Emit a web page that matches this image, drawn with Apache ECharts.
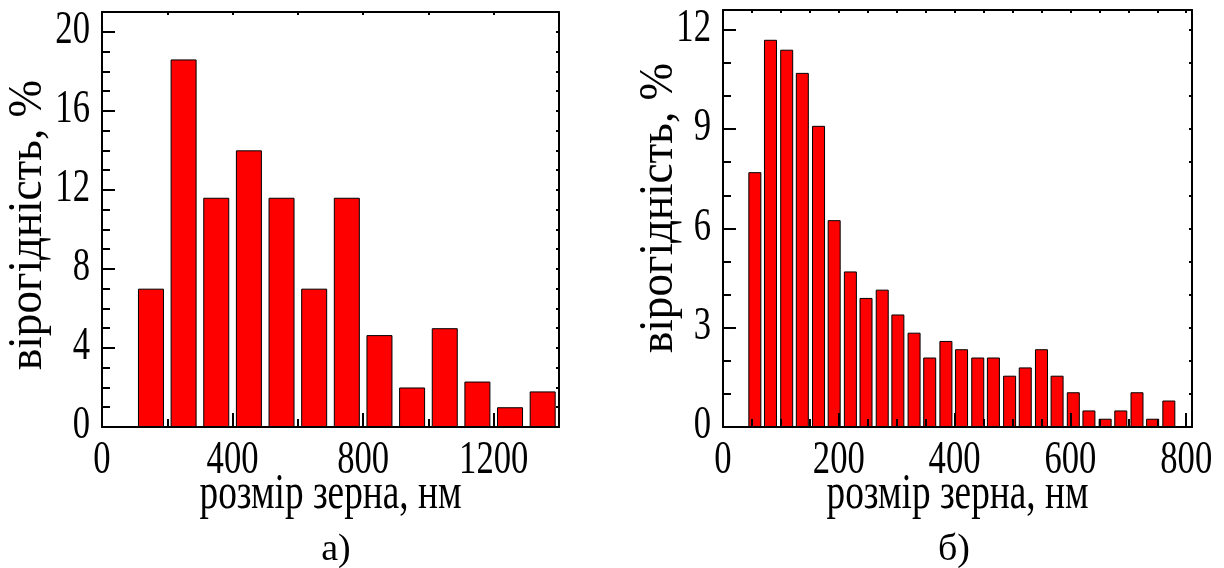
<!DOCTYPE html>
<html><head><meta charset="utf-8">
<script src="https://cdn.jsdelivr.net/npm/echarts@6/dist/echarts.min.js"></script>
<style>html,body{margin:0;padding:0;background:#fff}#c{width:1224px;height:568px}</style>
</head><body><div id="c"></div>
<script>
// ---- data ----
const binsA = [150, 250, 350, 450, 550, 650, 750, 850, 950, 1050, 1150, 1250, 1350];
const valsA = [7.0, 18.6, 11.6, 14.0, 11.6, 7.0, 11.6, 4.65, 2.0, 5.0, 2.3, 1.0, 1.8];
const binsB = [55, 82, 110, 137, 165, 192, 220, 247, 275, 302, 330, 357, 385, 412, 440, 467, 495, 522, 550, 577, 605, 632, 660, 687, 715, 742, 770];
const valsB = [7.7, 11.7, 11.4, 10.7, 9.1, 6.25, 4.7, 3.9, 4.15, 3.4, 2.85, 2.1, 2.6, 2.35, 2.1, 2.1, 1.55, 1.8, 2.35, 1.55, 1.05, 0.5, 0.25, 0.5, 1.05, 0.25, 0.8];
const xTicksA = [0, 400, 800, 1200];
const yTicksA = [0, 4, 8, 12, 16, 20];
const xTicksB = [0, 200, 400, 600, 800];
const yTicksB = [0, 3, 6, 9, 12];
const xNameText = 'розмір зерна, нм';
const yNameText = 'вірогідність, %';
const captions = ['а)', 'б)'];

// ---- style / layout ----
const FONT = '"Liberation Serif", "Times New Roman", serif';
const grids = [
  {left: 102, top: 12, width: 457, height: 415},
  {left: 723, top: 10, width: 469, height: 417}
];
const black = '#000';

function axis(gridIndex, pos, min, max, interval, tickLen, showLine) {
  return {
    type: 'value', gridIndex, position: pos, min, max, interval,
    z: 5,
    axisLine: {show: showLine, onZero: false, lineStyle: {color: black, width: 2}},
    axisTick: {show: true, inside: true, length: tickLen, lineStyle: {color: black, width: 2}},
    axisLabel: {show: false},
    splitLine: {show: false},
    minorTick: {show: false}
  };
}

const option = {
  animation: false,
  backgroundColor: '#fff',
  grid: grids.map(g => Object.assign({containLabel: false}, g)),
  xAxis: [
    axis(0, 'bottom', 0, 1400, 400, 14, true),
    axis(0, 'bottom', 0, 1400, 200, 8, false),
    axis(0, 'top', 0, 1400, 200, 3, true),
    axis(1, 'bottom', 0, 810, 200, 14, true),
    axis(1, 'bottom', 0, 810, 50, 8, false),
    axis(1, 'top', 0, 810, 50, 3, true)
  ],
  yAxis: [
    axis(0, 'left', 0, 21, 4, 13, true),
    axis(0, 'left', 0, 21, 1, 8, false),
    axis(0, 'right', 0, 21, 1, 3, true),
    axis(1, 'left', 0, 12.6, 3, 13, true),
    axis(1, 'left', 0, 12.6, 1, 8, false),
    axis(1, 'right', 0, 12.6, 1, 3, true)
  ],
  series: [
    {type: 'bar', xAxisIndex: 0, yAxisIndex: 0, barWidth: 26, z: 2,
     data: binsA.map((x, i) => [x, valsA[i]]),
     itemStyle: {color: '#ff0000', borderColor: black, borderWidth: 1}},
    {type: 'bar', xAxisIndex: 3, yAxisIndex: 3, barWidth: 13, z: 2,
     data: binsB.map((x, i) => [x, valsB[i]]),
     itemStyle: {color: '#ff0000', borderColor: black, borderWidth: 1}}
  ]
};

const chart = echarts.init(document.getElementById('c'));
chart.setOption(option);

// ---- condensed text drawn with the axes' own scales ----
const ctx = document.createElement('canvas').getContext('2d');
function measure(t, size) { ctx.font = size + 'px ' + FONT; return ctx.measureText(t).width; }
const TICK_SIZE = 47;
const tickScale = 52 / measure('400', TICK_SIZE);

function txt(text, x, y, size, sx, align, valign, rot) {
  return {type: 'text', x, y, scaleX: sx, rotation: rot || 0, silent: true, z: 10,
    style: {text, font: size + 'px ' + FONT, fill: black, align: align, verticalAlign: valign}};
}

const els = [];
const panels = [
  {xi: 0, yi: 0, xt: xTicksA, yt: yTicksA, g: grids[0], yNameX: 28, yNameY: 225, cap: captions[0], capX: 336},
  {xi: 3, yi: 3, xt: xTicksB, yt: yTicksB, g: grids[1], yNameX: 659, yNameY: 208, cap: captions[1], capX: 954}
];
panels.forEach(p => {
  const axisY = chart.convertToPixel({yAxisIndex: p.yi}, 0);
  const axisX = chart.convertToPixel({xAxisIndex: p.xi}, 0);
  p.xt.forEach(v => {
    const px = chart.convertToPixel({xAxisIndex: p.xi}, v);
    els.push(txt(String(v), px, axisY + 34, TICK_SIZE, tickScale, 'center', 'middle'));
  });
  p.yt.forEach(v => {
    const py = chart.convertToPixel({yAxisIndex: p.yi}, v);
    els.push(txt(String(v), axisX - 12, py - 1, TICK_SIZE, tickScale, 'right', 'middle'));
  });
  const cx = p.g.left + p.g.width / 2;
  els.push(txt(xNameText, cx, axisY + 68, 51, 262 / measure(xNameText, 51), 'center', 'middle'));
  els.push(txt(yNameText, p.yNameX, p.yNameY, 48, 290 / measure(yNameText, 48), 'center', 'middle', Math.PI / 2));
  els.push(txt(p.cap, p.capX, 550, 38, 1, 'center', 'middle'));
});
chart.setOption({graphic: {elements: els}});
</script>
</body></html>
